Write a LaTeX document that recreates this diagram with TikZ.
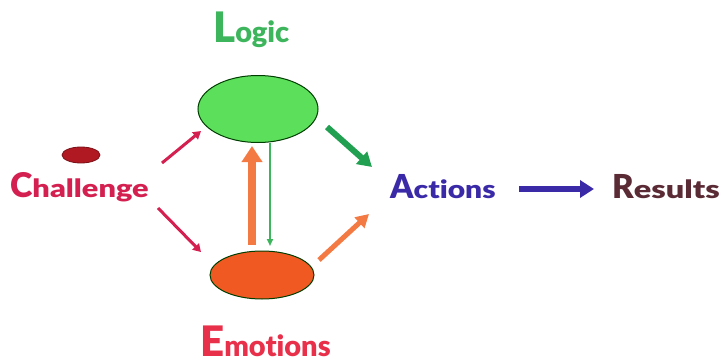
\documentclass[tikz,border=0pt]{standalone}
\usepackage{fontspec}
\setmainfont{Lato}[BoldFont={Lato Black},Ligatures={NoCommon}]
\usetikzlibrary{shapes.geometric,arrows.meta}
\definecolor{logicgreen}{HTML}{3DB55C}
\definecolor{lightgreen}{HTML}{5CE05C}
\definecolor{darkgreen}{HTML}{22A052}
\definecolor{crimson}{HTML}{D42050}
\definecolor{darkred}{HTML}{B01822}
\definecolor{emored}{HTML}{E8304A}
\definecolor{emoorange}{HTML}{F05A22}
\definecolor{arrorange}{HTML}{F47A44}
\definecolor{indigo}{HTML}{3A2AA8}
\definecolor{maroon}{HTML}{5A2A35}
\newcommand{\bigsmall}[5]{{\bfseries\fontsize{#1}{#1}\selectfont #3\fontsize{#2}{#2}\addfontfeature{FakeStretch=#5}\selectfont #4}}
\begin{document}
\begin{tikzpicture}[x=1pt,y=-1pt,
  lbl/.style={inner sep=0pt,anchor=base west},
  blob/.style={ellipse,draw=black!60!green!60!black,line width=1pt},
  arr/.style={-{Triangle[length=#1*2.6,width=#1*3]},line width=#1}]
\useasboundingbox (0,0) rectangle (724,364);
% labels
\node[lbl,text=logicgreen] (logic) at (213,42) {\bigsmall{42}{29}{L}{ogic}{1.0}};
\node[lbl,text=crimson] (chal) at (10,197) {\bigsmall{34}{25}{C}{hallenge}{1.23}};
\node[lbl,text=emored] (emo) at (200,356) {\bigsmall{42}{29}{E}{motions}{1.0}};
\node[lbl,text=indigo] (act) at (390,198) {\bigsmall{33}{25}{A}{ctions}{1.2}};
\node[lbl,text=maroon] (res) at (612,198) {\bigsmall{33}{25}{R}{esults}{1.3}};
% shapes
\node[blob,fill=lightgreen,minimum width=120pt,minimum height=67pt] (L) at (258,109) {};
\node[blob,fill=emoorange,minimum width=104pt,minimum height=48pt] (E) at (262,275) {};
\node[ellipse,draw=darkred!70!black,fill=darkred,line width=0.8pt,minimum width=38pt,minimum height=16pt,inner sep=0pt] (dot) at (81,155) {};
% arrow end points
\coordinate (c1s) at (162,163); \coordinate (c1e) at (201,131);
\coordinate (c2s) at (158,208); \coordinate (c2e) at (201,252);
\coordinate (ous) at (252,245); \coordinate (oue) at (252,146);
\coordinate (gds) at (270,143); \coordinate (gde) at (270,246);
\coordinate (gas) at (327,127); \coordinate (gae) at (372,167);
\coordinate (oas) at (319,260); \coordinate (oae) at (369,214);
\coordinate (bas) at (519,189); \coordinate (bae) at (594,189);
% arrows
\draw[arr=3,crimson] (c1s) -- (c1e);
\draw[arr=3,crimson] (c2s) -- (c2e);
\draw[arr=8,arrorange,-{Triangle[length=16pt,width=20pt]}] (ous) -- (oue);
\draw[arr=2,logicgreen,-{Triangle[length=7pt,width=6pt]}] (gds) -- (gde);
\draw[arr=6,darkgreen,-{Triangle[length=14pt,width=16pt]}] (gas) -- (gae);
\draw[arr=5,arrorange,-{Triangle[length=13pt,width=14pt]}] (oas) -- (oae);
\draw[arr=6,indigo,-{Triangle[length=14pt,width=17pt]}] (bas) -- (bae);
\end{tikzpicture}
\end{document}
